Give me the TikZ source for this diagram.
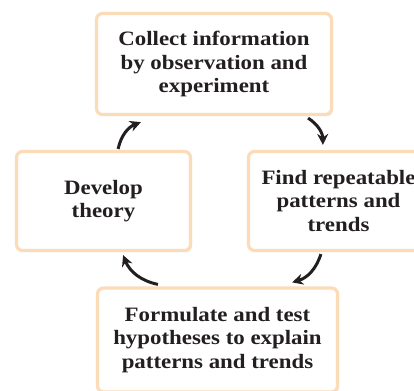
\documentclass[tikz,border=0pt]{standalone}
\usepackage{fontspec}
\setmainfont{Liberation Serif}[FakeStretch=1.12]
\usepackage{tikz}
\usetikzlibrary{arrows.meta, positioning, shadows}
\definecolor{boxpeach}{HTML}{FCDBB8}
\definecolor{arrowink}{HTML}{231F20}

\begin{document}
\begin{tikzpicture}[
  x=1bp, y=-1bp,
  stagebox/.style={rectangle, rounded corners=6bp, draw=boxpeach, line width=3.2bp,
                   fill=white, text=arrowink, align=center,
                   font=\fontsize{20.5}{23.5}\selectfont\bfseries,
                   drop shadow={opacity=0.18, shadow xshift=1.5bp, shadow yshift=-1.5bp}},
  cyclearrow/.style={-{Stealth[length=11bp, width=11bp]}, line width=3bp,
                     arrowink, bend left=28}
]
\useasboundingbox (0,0) rectangle (414,391);
\clip (0,0) rectangle (414,391);

% las cuatro etapas del ciclo
\node[stagebox, minimum width=235bp, minimum height=101bp] (collect) at (214,64)
  {Collect information\\by observation and\\experiment};
\node[stagebox, minimum width=180bp, minimum height=99bp] (patterns) at (338.5,201)
  {Find repeatable\\patterns and\\trends};
\node[stagebox, minimum width=240bp, minimum height=104bp] (hypotheses) at (217.5,340)
  {Formulate and test\\hypotheses to explain\\patterns and trends};
\node[stagebox, minimum width=174bp, minimum height=99bp] (theory) at (103.5,201)
  {Develop\\theory};

% flechas curvas, sentido horario
\draw[cyclearrow] ([xshift=-25bp, yshift=-2bp]collect.south east)
  to ([xshift=76bp, yshift=5bp]patterns.north west);
\draw[cyclearrow] ([xshift=74bp, yshift=-2bp]patterns.south west)
  to ([xshift=-47bp, yshift=4bp]hypotheses.north east);
\draw[cyclearrow] ([xshift=62bp, yshift=2bp]hypotheses.north west)
  to ([xshift=-69bp, yshift=-3bp]theory.south east);
\draw[cyclearrow] ([xshift=-74bp, yshift=1bp]theory.north east)
  to ([xshift=46bp, yshift=-6bp]collect.south west);

\end{tikzpicture}
\end{document}
